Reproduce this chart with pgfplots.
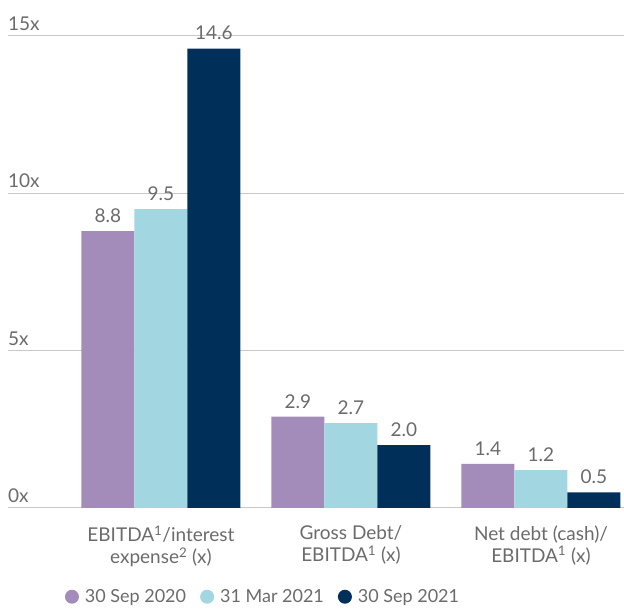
\documentclass[border=0pt]{standalone}
\usepackage{pgfplots}
\pgfplotsset{compat=1.18}
\usepackage{fontspec}
\setmainfont{Lato}
\definecolor{cA}{HTML}{A38CB9}
\definecolor{cB}{HTML}{A2D6E1}
\definecolor{cC}{HTML}{00305A}
\definecolor{txt}{HTML}{6B6B6B}
\definecolor{grd}{HTML}{C8C8C8}
\begin{document}
\begin{tikzpicture}
\begin{axis}[name=ax, scale only axis, width=616pt, height=472pt,
 xmin=-0.805, xmax=2.437, ymin=0, ymax=15,
 ybar=0pt, bar width=53pt,
 axis line style={draw=none},
 ytick={0,5,10,15}, yticklabels={0x,5x,10x,15x},
 ymajorgrids, grid style={grd, line width=1pt},
 major tick length=0pt,
 yticklabel style={anchor=south west, inner sep=0pt, xshift=0pt, yshift=5pt, font=\fontsize{19}{22}\selectfont, text=txt},
 xtick={0,1,2},
 xticklabels={{EBITDA\textsuperscript{1}/interest\\expense\textsuperscript{2} (x)},{Gross Debt/\\EBITDA\textsuperscript{1} (x)},{Net debt (cash)/\\EBITDA\textsuperscript{1} (x)}},
 xticklabel style={align=center, yshift=-14pt, font=\fontsize{19}{22}\selectfont, text=txt},
 nodes near coords,
 nodes near coords style={font=\fontsize{19}{22}\selectfont, text=txt, yshift=5pt, /pgf/number format/.cd, fixed, fixed zerofill, precision=1, assume math mode=true},
 legend image code/.code={\fill[#1] (0pt,0pt) circle (7pt);},
 legend style={at={(0.414,-0.188)}, anchor=center, legend columns=3, draw=none, fill=none, font=\fontsize{18}{20}\selectfont, text=txt,
   /tikz/every even column/.style={column sep=12pt}, /tikz/every odd column/.style={column sep=4pt}},
 clip=false,
]
\addplot[fill=cA, draw=none] coordinates {(0,8.8) (1,2.9) (2,1.4)};
\addplot[fill=cB, draw=none] coordinates {(0,9.5) (1,2.7) (2,1.2)};
\addplot[fill=cC, draw=none] coordinates {(0,14.6) (1,2.0) (2,0.5)};
\legend{30 Sep 2020, 31 Mar 2021, 30 Sep 2021}
\end{axis}
\pgfresetboundingbox
\path[use as bounding box] ([shift={(-8pt,-101pt)}]ax.south west) rectangle ([shift={(0pt,36pt)}]ax.north east);
\end{tikzpicture}
\end{document}
